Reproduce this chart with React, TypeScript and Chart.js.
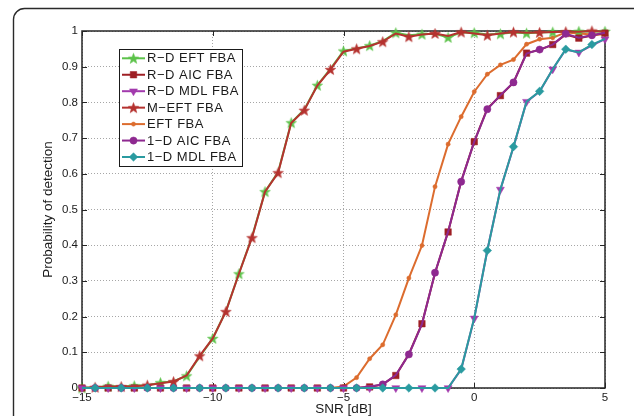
import React, { useEffect, useRef } from 'react';
import { Chart, registerables } from 'chart.js';

Chart.register(...registerables);

// ---------------- data ----------------
const SNR_DB = [-15, -14.5, -14, -13.5, -13, -12.5, -12, -11.5, -11, -10.5, -10, -9.5, -9, -8.5, -8, -7.5, -7, -6.5, -6, -5.5, -5, -4.5, -4, -3.5, -3, -2.5, -2, -1.5, -1, -0.5, 0, 0.5, 1, 1.5, 2, 2.5, 3, 3.5, 4, 4.5, 5];

const RD_EFT_FBA = [0, 0.002, 0.005, 0.004, 0.006, 0.008, 0.015, 0.019, 0.034, 0.088, 0.139, 0.215, 0.32, 0.423, 0.55, 0.605, 0.743, 0.78, 0.848, 0.894, 0.944, 0.951, 0.959, 0.972, 0.995, 0.988, 0.991, 0.992, 0.982, 0.996, 0.995, 0.99, 0.992, 0.996, 0.994, 0.996, 0.997, 0.998, 0.999, 0.998, 0.999];
const RD_AIC_FBA = [0, 0, 0, 0, 0, 0, 0, 0, 0, 0, 0, 0, 0, 0, 0, 0, 0, 0, 0, 0, 0, 0, 0.003, 0.01, 0.035, 0.095, 0.18, 0.322, 0.437, 0.579, 0.69, 0.783, 0.819, 0.855, 0.938, 0.947, 0.962, 0.99, 0.98, 0.987, 0.994];
const RD_MDL_FBA = [0, 0, 0, 0, 0, 0, 0, 0, 0, 0, 0, 0, 0, 0, 0, 0, 0, 0, 0, 0, 0, 0, 0, 0, 0, 0, 0, 0, 0, 0.052, 0.195, 0.386, 0.556, 0.675, 0.802, 0.83, 0.893, 0.948, 0.94, 0.96, 0.977];
const M_EFT_FBA = [0, 0.002, 0.004, 0.004, 0.005, 0.008, 0.013, 0.018, 0.035, 0.09, 0.139, 0.214, 0.32, 0.421, 0.55, 0.603, 0.742, 0.778, 0.847, 0.892, 0.942, 0.95, 0.958, 0.97, 0.993, 0.984, 0.99, 0.993, 0.986, 0.997, 0.993, 0.988, 0.993, 0.997, 0.995, 0.996, 0.997, 0.998, 0.998, 1.0, 0.998];
const EFT_FBA = [0, 0, 0, 0, 0, 0, 0, 0, 0, 0, 0, 0, 0, 0, 0, 0, 0, 0, 0, 0, 0.004, 0.029, 0.082, 0.121, 0.205, 0.308, 0.399, 0.564, 0.683, 0.76, 0.83, 0.879, 0.905, 0.92, 0.963, 0.977, 0.981, 0.996, 0.993, 0.99, 0.99];
const ONE_D_AIC_FBA = [0, 0, 0, 0, 0, 0, 0, 0, 0, 0, 0, 0, 0, 0, 0, 0, 0, 0, 0, 0, 0, 0, 0.004, 0.01, 0.036, 0.094, 0.179, 0.323, 0.438, 0.578, 0.69, 0.781, 0.82, 0.856, 0.937, 0.948, 0.962, 0.992, 0.981, 0.988, 0.995];
const ONE_D_MDL_FBA = [0, 0, 0, 0, 0, 0, 0, 0, 0, 0, 0, 0, 0, 0, 0, 0, 0, 0, 0, 0, 0, 0, 0, 0, 0, 0, 0, 0, 0, 0.053, 0.196, 0.385, 0.556, 0.676, 0.802, 0.831, 0.893, 0.949, 0.94, 0.962, 0.978];

const SERIES_LABELS = ['R\u2212D EFT FBA', 'R\u2212D AIC FBA', 'R\u2212D MDL FBA', 'M\u2212EFT FBA', 'EFT FBA', '1\u2212D AIC FBA', '1\u2212D MDL FBA'];
const X_TICKS = [-15, -10, -5, 0, 5];
const Y_TICKS = [0, 0.1, 0.2, 0.3, 0.4, 0.5, 0.6, 0.7, 0.8, 0.9, 1];
const X_TITLE = 'SNR [dB]';
const Y_TITLE = 'Probability of detection';

// ---------------- styles ----------------
const FONT = '"Liberation Sans", Arial, Helvetica, sans-serif';

function makeStar(color: string, r: number): HTMLCanvasElement {
  const size = Math.ceil(r * 2 + 2);
  const c = document.createElement('canvas');
  c.width = size;
  c.height = size;
  const g = c.getContext('2d')!;
  g.translate(size / 2, size / 2 + 0.5);
  g.beginPath();
  for (let i = 0; i < 10; i++) {
    const rad = i % 2 === 0 ? r : r * 0.42;
    const a = -Math.PI / 2 + (i * Math.PI) / 5;
    g.lineTo(rad * Math.cos(a), rad * Math.sin(a));
  }
  g.closePath();
  g.fillStyle = color;
  g.fill();
  g.strokeStyle = color;
  g.lineWidth = 0.6;
  g.stroke();
  return c;
}

type Marker = 'star' | 'rect' | 'triangleDown' | 'circle' | 'rectRot';
interface SeriesStyle {
  color: string;
  marker: Marker;
  radius: number;
  parity: number; // 0 even indices, 1 odd, -1 all
  drawOrder: number; // lower = on top
}

const STYLES: SeriesStyle[] = [
  { color: '#5cc24a', marker: 'star', radius: 5.5, parity: 0, drawOrder: 7 },
  { color: '#9e1f24', marker: 'rect', radius: 4.6, parity: 0, drawOrder: 6 },
  { color: '#a23aad', marker: 'triangleDown', radius: 4.6, parity: 0, drawOrder: 5 },
  { color: '#b5322f', marker: 'star', radius: 5.5, parity: 1, drawOrder: 4 },
  { color: '#dc6c2e', marker: 'circle', radius: 2.1, parity: -1, drawOrder: 9 },
  { color: '#8e2990', marker: 'circle', radius: 3.6, parity: 1, drawOrder: 2 },
  { color: '#2a9ba0', marker: 'rectRot', radius: 4.3, parity: 1, drawOrder: 1 },
];

const SERIES_VALUES = [RD_EFT_FBA, RD_AIC_FBA, RD_MDL_FBA, M_EFT_FBA, EFT_FBA, ONE_D_AIC_FBA, ONE_D_MDL_FBA];

function drawMarker(ctx: CanvasRenderingContext2D, s: SeriesStyle, star: HTMLCanvasElement | null, x: number, y: number) {
  const r = s.radius;
  ctx.save();
  ctx.fillStyle = s.color;
  ctx.strokeStyle = s.color;
  ctx.lineWidth = 0.5;
  ctx.beginPath();
  if (s.marker === 'star' && star) {
    ctx.drawImage(star, x - star.width / 2, y - star.height / 2);
    ctx.restore();
    return;
  } else if (s.marker === 'rect') {
    const h = r * Math.SQRT1_2;
    ctx.rect(x - h, y - h, 2 * h, 2 * h);
  } else if (s.marker === 'triangleDown') {
    let a = Math.PI;
    ctx.moveTo(x + Math.sin(a) * r, y - Math.cos(a) * r);
    a += (2 * Math.PI) / 3;
    ctx.lineTo(x + Math.sin(a) * r, y - Math.cos(a) * r);
    a += (2 * Math.PI) / 3;
    ctx.lineTo(x + Math.sin(a) * r, y - Math.cos(a) * r);
    ctx.closePath();
  } else if (s.marker === 'circle') {
    ctx.arc(x, y, r, 0, Math.PI * 2);
  } else if (s.marker === 'rectRot') {
    ctx.moveTo(x, y - r);
    ctx.lineTo(x + r, y);
    ctx.lineTo(x, y + r);
    ctx.lineTo(x - r, y);
    ctx.closePath();
  }
  ctx.fill();
  ctx.stroke();
  ctx.restore();
}

export default function App() {
  const ref = useRef<HTMLCanvasElement>(null);

  useEffect(() => {
    const stars = STYLES.map((s) => (s.marker === 'star' ? makeStar(s.color, s.radius) : null));

    const datasets = SERIES_VALUES.map((vals, i) => {
      const s = STYLES[i];
      const pointStyle: any =
        s.marker === 'star' ? stars[i] : s.marker === 'triangleDown' ? 'triangle' : s.marker;
      return {
        label: SERIES_LABELS[i],
        data: SNR_DB.map((x, k) => ({ x, y: vals[k] })),
        borderColor: s.color,
        backgroundColor: s.color,
        borderWidth: 2,
        pointStyle,
        pointRotation: s.marker === 'triangleDown' ? 180 : 0,
        pointRadius: (c: any) => (s.parity === -1 || c.dataIndex % 2 === s.parity ? s.radius : 0),
        pointHoverRadius: (c: any) => (s.parity === -1 || c.dataIndex % 2 === s.parity ? s.radius : 0),
        pointBorderWidth: 0.5,
        pointBorderColor: s.color,
        pointBackgroundColor: s.color,
        tension: 0,
        clip: false as any,
        order: s.drawOrder,
      };
    });

    const decor = {
      id: 'decor',
      beforeDraw(chart: any) {
        const ctx: CanvasRenderingContext2D = chart.ctx;
        ctx.save();
        ctx.fillStyle = '#ffffff';
        ctx.fillRect(0, 0, chart.width, chart.height);
        ctx.strokeStyle = '#2a2a2a';
        ctx.lineWidth = 1.4;
        ctx.beginPath();
        (ctx as any).roundRect(13.5, 8.5, 720, 520, 11);
        ctx.stroke();
        ctx.restore();
      },
      beforeDatasetsDraw(chart: any) {
        const ctx: CanvasRenderingContext2D = chart.ctx;
        const a = chart.chartArea;
        const xs = chart.scales.x;
        const ys = chart.scales.y;
        ctx.save();
        ctx.strokeStyle = '#262626';
        ctx.lineWidth = 1.5;
        ctx.strokeRect(a.left, a.top, a.right - a.left, a.bottom - a.top);
        ctx.lineWidth = 1;
        ctx.beginPath();
        const tl = 5;
        for (const v of X_TICKS) {
          const x = Math.round(xs.getPixelForValue(v)) + 0.5;
          ctx.moveTo(x, a.bottom);
          ctx.lineTo(x, a.bottom - tl);
          ctx.moveTo(x, a.top);
          ctx.lineTo(x, a.top + tl);
        }
        for (const v of Y_TICKS) {
          const y = Math.round(ys.getPixelForValue(v)) + 0.5;
          ctx.moveTo(a.left, y);
          ctx.lineTo(a.left + tl, y);
          ctx.moveTo(a.right, y);
          ctx.lineTo(a.right - tl, y);
        }
        ctx.stroke();
        ctx.restore();
      },
      afterDraw(chart: any) {
        const ctx: CanvasRenderingContext2D = chart.ctx;
        const a = chart.chartArea;
        ctx.save();
        // axis titles
        ctx.fillStyle = '#1a1a1a';
        ctx.font = `13.5px ${FONT}`;
        ctx.textAlign = 'center';
        ctx.textBaseline = 'middle';
        ctx.fillText(X_TITLE, (a.left + a.right) / 2, 409);
        ctx.save();
        ctx.translate(48, (a.top + a.bottom) / 2);
        ctx.rotate(-Math.PI / 2);
        ctx.fillText(Y_TITLE, 0, 0);
        ctx.restore();

        // legend
        const bx = 119.5, by = 49.5, bw = 123, bh = 117;
        ctx.fillStyle = '#ffffff';
        ctx.fillRect(bx, by, bw, bh);
        ctx.strokeStyle = '#1a1a1a';
        ctx.lineWidth = 1;
        ctx.strokeRect(bx, by, bw, bh);
        const rowY0 = 58.3;
        const rowH = 16.45;
        ctx.font = `13px ${FONT}`;
        (ctx as any).letterSpacing = '0.5px';
        ctx.textAlign = 'left';
        ctx.textBaseline = 'middle';
        SERIES_LABELS.forEach((label, i) => {
          const s = STYLES[i];
          const y = rowY0 + i * rowH;
          ctx.strokeStyle = s.color;
          ctx.lineWidth = 2;
          ctx.beginPath();
          ctx.moveTo(122, y);
          ctx.lineTo(145, y);
          ctx.stroke();
          drawMarker(ctx, s, stars[i], 133.5, y);
          ctx.fillStyle = '#1a1a1a';
          ctx.fillText(label, 147, y + 0.5);
        });
        (ctx as any).letterSpacing = '0px';
        ctx.restore();
      },
    };

    const fmtX = (v: number) => (v < 0 ? '\u2212' + Math.abs(v) : String(v));
    const fmtY = (v: number) => {
      const r = Math.round(v * 10) / 10;
      return r === 0 ? '0' : r === 1 ? '1' : r.toFixed(1);
    };

    const chart = new Chart(ref.current!, {
      type: 'line',
      data: { datasets: datasets as any },
      options: {
        responsive: false,
        devicePixelRatio: 1,
        animation: false,
        events: [],
        layout: { padding: { left: 0, right: 29, top: 31, bottom: 0 } },
        plugins: { legend: { display: false }, title: { display: false }, tooltip: { enabled: false } },
        scales: {
          x: {
            type: 'linear',
            min: -15,
            max: 5,
            afterBuildTicks: (scale: any) => {
              scale.ticks = X_TICKS.map((v) => ({ value: v }));
            },
            afterFit: (scale: any) => {
              scale.height = 28;
            },
            grid: { color: '#a6a6a6', lineWidth: 1, drawTicks: false, tickLength: 0 },
            border: { display: false, dash: [1, 2] },
            ticks: {
              padding: 3,
              maxRotation: 0,
              autoSkip: false,
              color: '#1a1a1a',
              font: { family: FONT, size: 11.5 },
              callback: (v: any) => fmtX(Number(v)),
            },
          },
          y: {
            type: 'linear',
            min: 0,
            max: 1,
            afterBuildTicks: (scale: any) => {
              scale.ticks = Y_TICKS.map((v) => ({ value: v }));
            },
            afterFit: (scale: any) => {
              scale.width = 82;
            },
            grid: { color: '#a6a6a6', lineWidth: 1, drawTicks: false, tickLength: 0 },
            border: { display: false, dash: [1, 2] },
            ticks: {
              padding: 4,
              autoSkip: false,
              color: '#1a1a1a',
              font: { family: FONT, size: 11.5 },
              callback: (v: any) => fmtY(Number(v)),
            },
          },
        },
      },
      plugins: [decor as any],
    } as any);

    return () => chart.destroy();
  }, []);

  return (
    <div style={{ position: 'fixed', left: 0, top: 0, width: 634, height: 416, background: '#fff', overflow: 'hidden' }}>
      <canvas ref={ref} width={634} height={416} style={{ display: 'block', width: 634, height: 416 }} />
    </div>
  );
}
